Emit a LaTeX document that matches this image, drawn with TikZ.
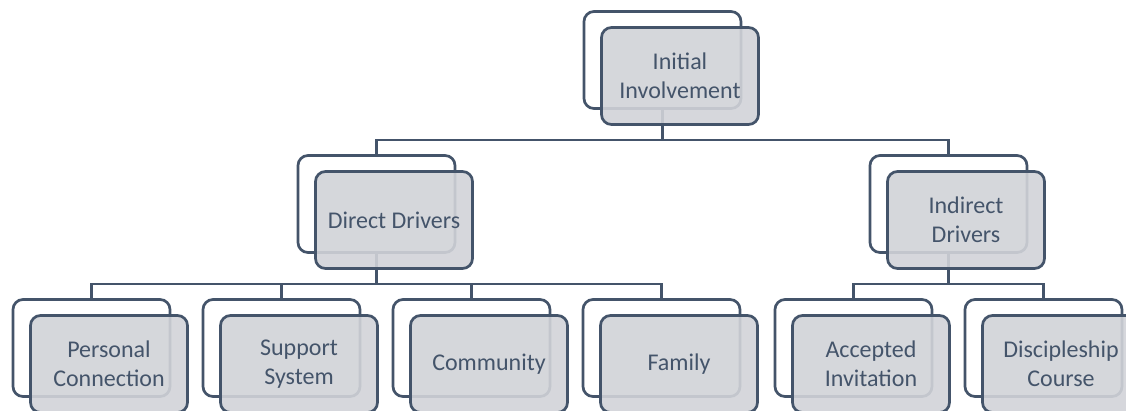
\documentclass[tikz,border=0pt]{standalone}
\usepackage{fontspec}
\setmainfont{Carlito}
\definecolor{slate}{HTML}{44546A}
\definecolor{boxgrey}{RGB}{209,211,216}
\tikzset{
  backbox/.style={draw=slate, line width=2.7pt, rounded corners=10pt, fill=white,
    minimum width=157pt, minimum height=97pt, inner sep=0pt},
  frontbox/.style={draw=slate, line width=2.7pt, rounded corners=10pt,
    fill=boxgrey, fill opacity=0.9, text opacity=1, text=slate,
    minimum width=157pt, minimum height=97pt, inner sep=0pt,
    font=\fontsize{24}{29}\selectfont, align=center},
  link/.style={draw=slate, line width=2.5pt},
}
\begin{document}
\begin{tikzpicture}[x=1pt, y=-1pt]
  \clip (0,0) rectangle (1126,410);
  \useasboundingbox (0,0) rectangle (1126,410);

  % back frames
  \node[backbox] (initB) at (662.5,60) {};
  \node[backbox] (directB) at (376.5,204) {};
  \node[backbox] (indirectB) at (948.5,204) {};
  \node[backbox] (personalB) at (91.5,348) {};
  \node[backbox] (supportB) at (281.5,348) {};
  \node[backbox] (communityB) at (471.5,348) {};
  \node[backbox] (familyB) at (661.5,348) {};
  \node[backbox] (acceptedB) at (853.5,348) {};
  \node[backbox] (courseB) at (1043.5,348) {};

  % bus levels
  \coordinate (busA) at (0,140);
  \coordinate (busB) at (0,284);

  % connectors
  \draw[link] (initB.south) -- (busA -| initB.south);
  \draw[link] (directB.north) |- (busA -| initB.south);
  \draw[link] (indirectB.north) |- (busA -| initB.south);

  \draw[link] (directB.south) -- (busB -| directB.south);
  \draw[link] (personalB.north) |- (busB -| directB.south);
  \draw[link] (supportB.north) |- (busB -| directB.south);
  \draw[link] (communityB.north) |- (busB -| directB.south);
  \draw[link] (familyB.north) |- (busB -| directB.south);

  \draw[link] (indirectB.south) -- (busB -| indirectB.south);
  \draw[link] (acceptedB.north) |- (busB -| indirectB.south);
  \draw[link] (courseB.north) |- (busB -| indirectB.south);

  % front cards with labels
  \node[frontbox] (init) at (680,76) {Initial\\Involvement};
  \node[frontbox] (direct) at (394,220) {Direct Drivers};
  \node[frontbox] (indirect) at (966,220) {Indirect\\Drivers};
  \node[frontbox] (personal) at (109,364) {Personal\\Connection};
  \node[frontbox] (support) at (299,364) {Support\\System};
  \node[frontbox] (community) at (489,364) {Community};
  \node[frontbox] (family) at (679,364) {Family};
  \node[frontbox] (accepted) at (871,364) {Accepted\\Invitation};
  \node[frontbox] (course) at (1061,364) {Discipleship\\Course};
\end{tikzpicture}
\end{document}
